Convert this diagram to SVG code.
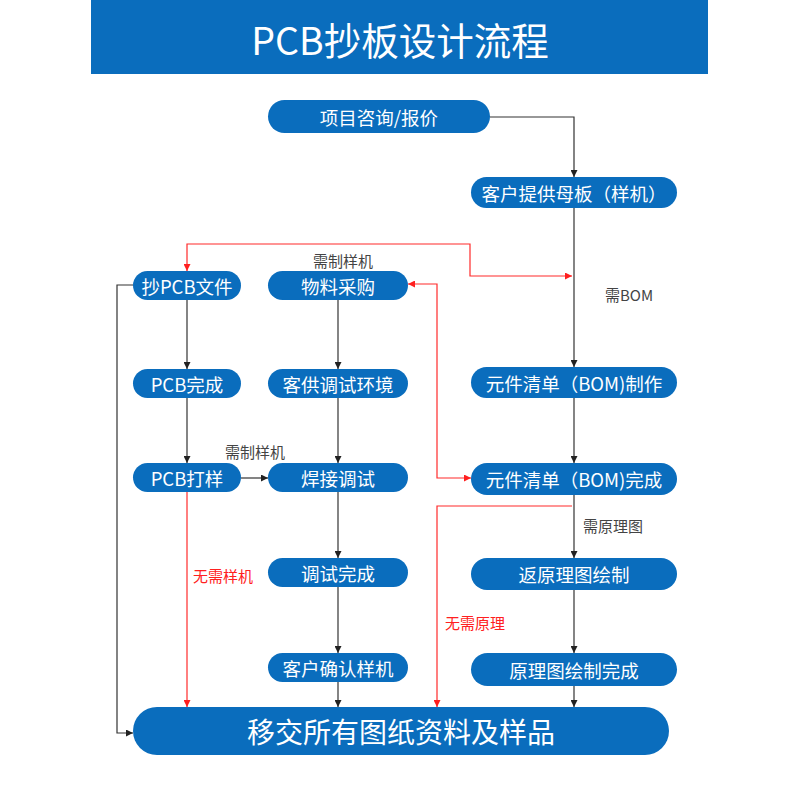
<svg xmlns="http://www.w3.org/2000/svg" width="800" height="800" viewBox="0 0 800 800">
<defs>
<marker id="ab" viewBox="0 0 10 10" refX="10" refY="5" markerWidth="7" markerHeight="7" orient="auto-start-reverse" markerUnits="userSpaceOnUse"><path d="M0,0 L10,5 L0,10 z" fill="#222"/></marker>
<marker id="ar" viewBox="0 0 10 10" refX="10" refY="5" markerWidth="7" markerHeight="7" orient="auto-start-reverse" markerUnits="userSpaceOnUse"><path d="M0,0 L10,5 L0,10 z" fill="#ff1f1f"/></marker>
<style>
.n{fill:#0a6dbd}
.t{fill:#fff;font-family:"Noto Sans CJK SC","Noto Sans",sans-serif;font-size:18.5px;text-anchor:middle;dominant-baseline:central}
.b{fill:none;stroke:#333;stroke-width:1.2;marker-end:url(#ab)}
.r{fill:none;stroke:#ff2a2a;stroke-width:1.2;marker-end:url(#ar)}
.rr{fill:none;stroke:#ff2a2a;stroke-width:1.2;marker-end:url(#ar);marker-start:url(#ar)}
.lg{fill:#444;font-family:"Noto Sans CJK SC","Noto Sans",sans-serif;font-size:15px;text-anchor:middle;dominant-baseline:central}
.lr{fill:#ff2020;font-family:"Noto Sans CJK SC","Noto Sans",sans-serif;font-size:15px;text-anchor:middle;dominant-baseline:central}
</style>
</defs>
<rect width="800" height="800" fill="#fff"/>
<g id="title">
<rect x="91" y="0" width="617" height="74" fill="#0a6dbd"/>
<text x="400" y="38" fill="#fff" font-family="'Noto Sans CJK SC','Noto Sans',sans-serif" font-size="37.5" text-anchor="middle" dominant-baseline="central">PCB抄板设计流程</text>
</g>
<g id="connectors">
<path class="b" d="M490,117 H574 V177"/>
<path class="b" d="M574,208 V367"/>
<path class="rr" d="M187,271 V244 H470 V276 H572"/>
<path class="rr" d="M408,284 H437 V478 H471"/>
<path class="b" d="M187,299 V369"/>
<path class="b" d="M187,397 V463"/>
<path class="b" d="M241,478 H268"/>
<path class="r" d="M187,492 V707"/>
<path class="b" d="M133,285 H117 V733 H133"/>
<path class="b" d="M338,299 V369"/>
<path class="b" d="M338,397 V463"/>
<path class="b" d="M338,492 V558"/>
<path class="b" d="M338,587 V653"/>
<path class="b" d="M338,682 V707"/>
<path class="b" d="M574,397 V463"/>
<path class="b" d="M574,495 V558"/>
<path class="r" d="M572,506 H437 V707"/>
<path class="b" d="M574,590 V653"/>
<path class="b" d="M574,686 V707"/>
<text class="lg" x="629" y="294">需BOM</text>
<text class="lg" x="343" y="260">需制样机</text>
<text class="lg" x="255" y="451">需制样机</text>
<text class="lg" x="613" y="525">需原理图</text>
<text class="lr" x="223" y="575">无需样机</text>
<text class="lr" x="475" y="622">无需原理</text>
</g>
<g id="n1"><rect class="n" x="268" y="100" width="222" height="33" rx="16.5"/><text class="t" x="379" y="116.5">项目咨询/报价</text></g>
<g id="n2"><rect class="n" x="471" y="177" width="206" height="31" rx="15.5"/><text class="t" x="574" y="192.5">客户提供母板（样机）</text></g>
<g id="n3"><rect class="n" x="133" y="271" width="108" height="29" rx="14.5"/><text class="t" x="187" y="285.5">抄PCB文件</text></g>
<g id="n4"><rect class="n" x="268" y="271" width="140" height="29" rx="14.5"/><text class="t" x="338" y="285.5">物料采购</text></g>
<g id="n5"><rect class="n" x="133" y="369" width="108" height="29" rx="14.5"/><text class="t" x="187" y="383.5">PCB完成</text></g>
<g id="n6"><rect class="n" x="268" y="369" width="140" height="29" rx="14.5"/><text class="t" x="338" y="383.5">客供调试环境</text></g>
<g id="n7"><rect class="n" x="471" y="367" width="206" height="31" rx="15.5"/><text class="t" x="574" y="382.5">元件清单（BOM)制作</text></g>
<g id="n8"><rect class="n" x="133" y="463" width="108" height="29" rx="14.5"/><text class="t" x="187" y="477.5">PCB打样</text></g>
<g id="n9"><rect class="n" x="268" y="463" width="140" height="29" rx="14.5"/><text class="t" x="338" y="477.5">焊接调试</text></g>
<g id="n10"><rect class="n" x="471" y="463" width="206" height="32" rx="16"/><text class="t" x="574" y="479">元件清单（BOM)完成</text></g>
<g id="n11"><rect class="n" x="268" y="558" width="140" height="29" rx="14.5"/><text class="t" x="338" y="572.5">调试完成</text></g>
<g id="n12"><rect class="n" x="471" y="558" width="206" height="32" rx="16"/><text class="t" x="574" y="574">返原理图绘制</text></g>
<g id="n13"><rect class="n" x="268" y="653" width="140" height="29" rx="14.5"/><text class="t" x="338" y="667.5">客户确认样机</text></g>
<g id="n14"><rect class="n" x="471" y="653" width="206" height="33" rx="16.5"/><text class="t" x="574" y="669.5">原理图绘制完成</text></g>
<g id="n15"><rect class="n" x="133" y="707" width="536" height="48" rx="24"/><text class="t" x="401" y="731" style="font-size:28px">移交所有图纸资料及样品</text></g>
</svg>
